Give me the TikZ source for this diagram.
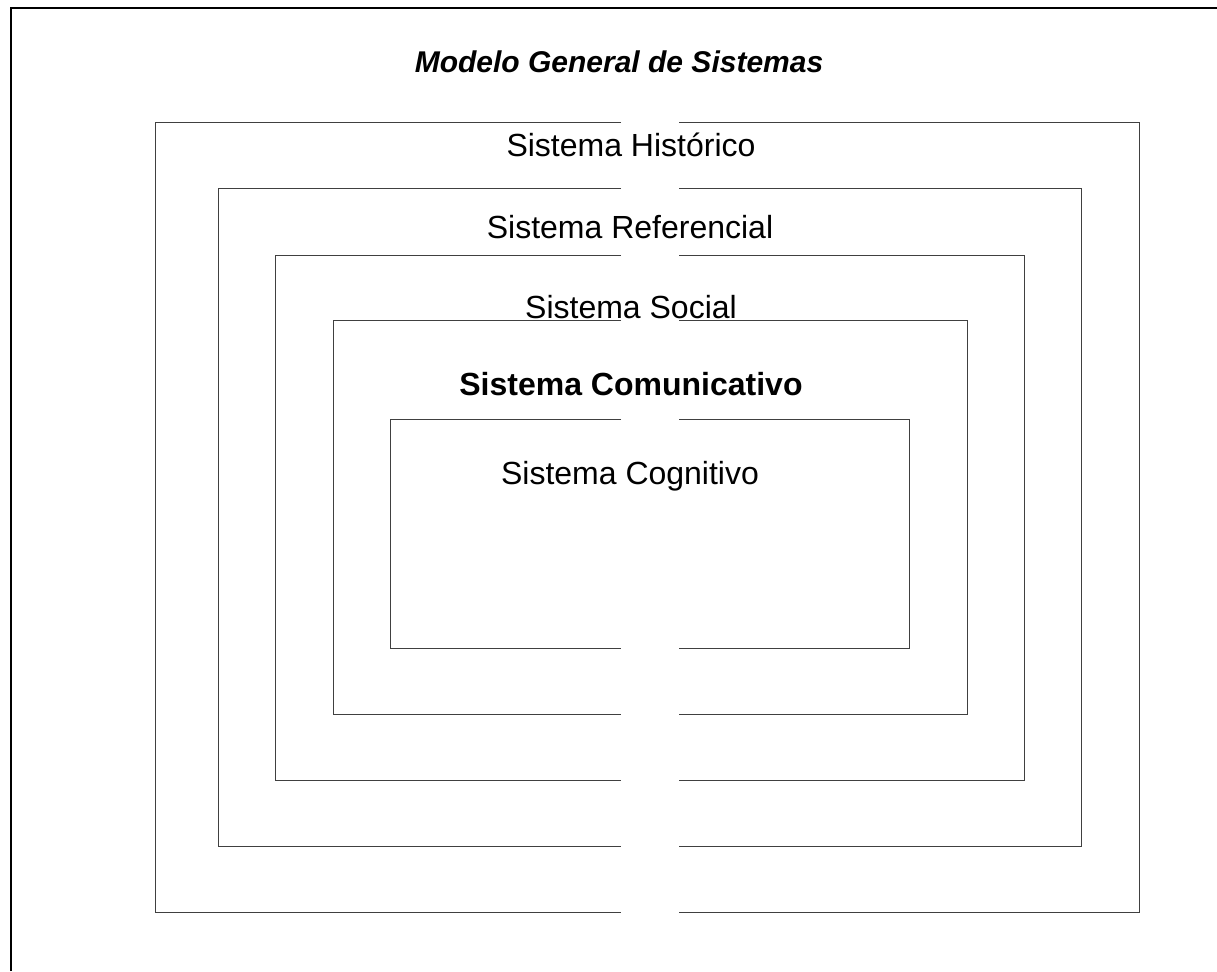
\documentclass[tikz,border=0pt]{standalone}
\usepackage{fontspec}
\setmainfont{Liberation Sans}

\tikzset{
  sysline/.style={line width=1pt, black!75},
  syslabel/.style={anchor=base, inner sep=0pt, font=\fontsize{32}{38}\selectfont},
}

\begin{document}
\begin{tikzpicture}[x=1pt, y=-1pt]
\useasboundingbox (0,0) rectangle (1217,971);

% outer frame
\draw[line width=2pt] (11,971) -- (11,8) -- (1217,8);

\node[anchor=base, inner sep=0pt, font=\fontsize{30}{36}\selectfont\bfseries\itshape] (titulo) at (619,73) {Modelo General de Sistemas};

% Sistema Historico
\draw[sysline] (621,123) -- (155,123) -- (155,912) -- (621,912);
\draw[sysline] (679,123) -- (1139,123) -- (1139,912) -- (679,912);
\node[syslabel] (historico) at (631,156) {Sistema Histórico};

% Sistema Referencial
\draw[sysline] (621,188) -- (218,188) -- (218,846) -- (621,846);
\draw[sysline] (679,188) -- (1081,188) -- (1081,846) -- (679,846);
\node[syslabel] (referencial) at (630,238) {Sistema Referencial};

% Sistema Social
\draw[sysline] (621,255) -- (275,255) -- (275,780) -- (621,780);
\draw[sysline] (679,255) -- (1024,255) -- (1024,780) -- (679,780);
\node[syslabel] (social) at (631,318) {Sistema Social};

% Sistema Comunicativo
\draw[sysline] (621,320) -- (333,320) -- (333,714) -- (621,714);
\draw[sysline] (679,320) -- (967,320) -- (967,714) -- (679,714);
\node[syslabel, font=\fontsize{32}{38}\selectfont\bfseries] (comunicativo) at (631,395) {Sistema Comunicativo};

% Sistema Cognitivo
\draw[sysline] (621,419) -- (390,419) -- (390,648) -- (621,648);
\draw[sysline] (679,419) -- (909,419) -- (909,648) -- (679,648);
\node[syslabel] (cognitivo) at (630,484) {Sistema Cognitivo};

\end{tikzpicture}
\end{document}
